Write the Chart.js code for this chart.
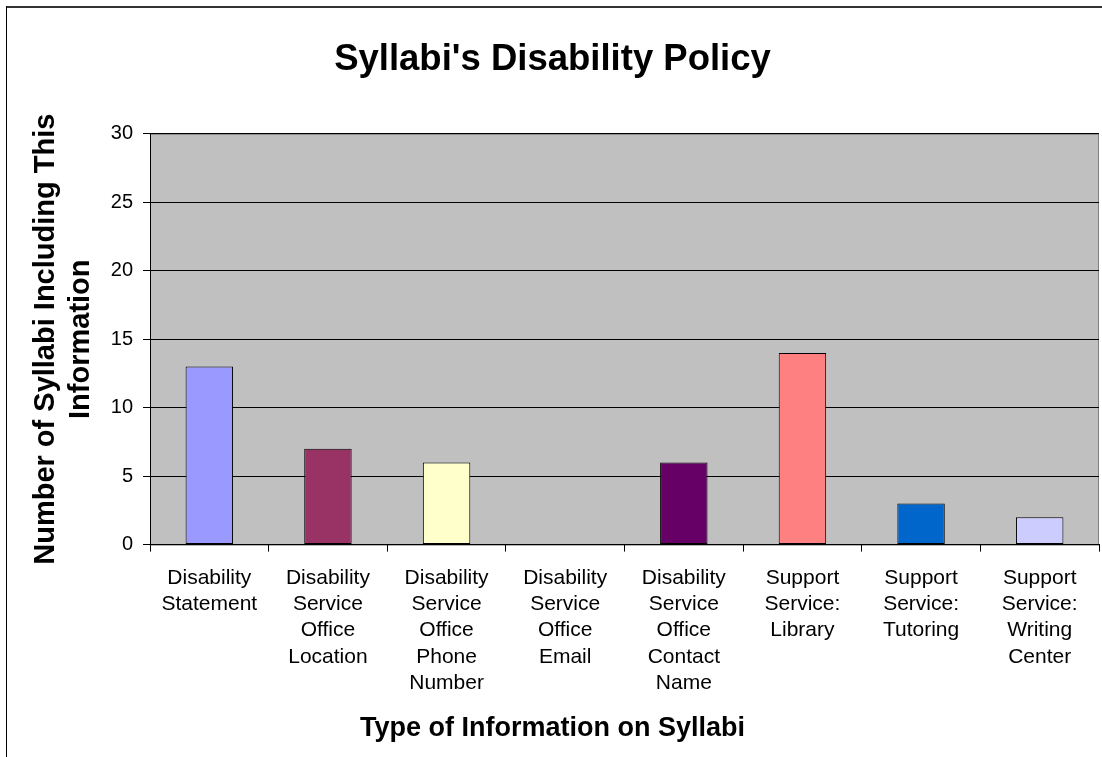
<!DOCTYPE html>
<html lang="en">
<head>
    <meta charset="UTF-8">
    <script src="https://cdn.jsdelivr.net/npm/chart.js"></script>
    <style>
        body { margin: 0; background: #fff; }
        #wrap { position: relative; width: 1102px; height: 757px; }
    </style>
</head>
<body>
    <div id="wrap"><canvas id="chart"></canvas></div>

    <script>
        const categories = [
            ['Disability', 'Statement'],
            ['Disability', 'Service', 'Office', 'Location'],
            ['Disability', 'Service', 'Office', 'Phone', 'Number'],
            ['Disability', 'Service', 'Office', 'Email'],
            ['Disability', 'Service', 'Office', 'Contact', 'Name'],
            ['Support', 'Service:', 'Library'],
            ['Support', 'Service:', 'Tutoring'],
            ['Support', 'Service:', 'Writing', 'Center']
        ];
        const counts = [13, 7, 6, 0, 6, 14, 3, 2];
        const barColors = ['#9999FF', '#993366', '#FFFFCC', '#FFFFFF', '#660066', '#FF8080', '#0066CC', '#CCCCFF'];
        const yTicks = [0, 5, 10, 15, 20, 25, 30];

        const font = 'Liberation Sans, Arial, sans-serif';

        // grey plot area + outer chart frame
        const frame = {
            id: 'frame',
            beforeDraw(chart) {
                const c = chart.ctx, a = chart.chartArea;
                c.save();
                c.fillStyle = '#333';
                c.fillRect(6, 6, chart.width - 6, 2);
                c.fillStyle = '#000';
                c.fillRect(6, 6, 1, chart.height - 6);
                c.fillStyle = '#C0C0C0';
                c.fillRect(a.left, a.top, a.right - a.left, a.bottom - a.top);
                c.strokeStyle = '#808080';
                c.lineWidth = 1;
                c.strokeRect(a.left + 0.5, a.top + 0.5, a.right - a.left - 1, a.bottom - a.top);
                c.restore();
            }
        };

        new Chart(document.getElementById('chart'), {
            type: 'bar',
            data: {
                labels: categories,
                datasets: [{
                    data: counts,
                    backgroundColor: barColors,
                    borderColor: '#000',
                    borderWidth: 1,
                    borderSkipped: false,
                    barPercentage: 0.4,
                    categoryPercentage: 1
                }]
            },
            options: {
                responsive: true,
                maintainAspectRatio: false,
                animation: false,
                layout: { padding: { left: 6, right: 3, top: 0, bottom: 0 } },
                plugins: {
                    legend: { display: false },
                    tooltip: { enabled: false },
                    title: {
                        display: true,
                        text: "Syllabi's Disability Policy",
                        color: '#000',
                        font: { family: font, size: 36.5, weight: 'bold', lineHeight: 1.2 },
                        padding: { top: 38, bottom: 52 }
                    },
                    subtitle: {
                        display: true,
                        position: 'bottom',
                        text: 'Type of Information on Syllabi',
                        color: '#000',
                        font: { family: font, size: 27, weight: 'bold', lineHeight: 1.2 },
                        padding: { top: 17, bottom: 12 }
                    }
                },
                scales: {
                    x: {
                        afterFit: s => { s.height = 151; },
                        grid: { display: true, drawOnChartArea: false, drawTicks: true, tickLength: 7, color: '#000', offset: true },
                        border: { color: '#000', width: 1 },
                        ticks: {
                            color: '#000',
                            padding: 14,
                            maxRotation: 0,
                            autoSkip: false,
                            font: { family: font, size: 21, lineHeight: 1.24 }
                        }
                    },
                    y: {
                        min: 0,
                        max: 30,
                        afterFit: s => { s.width = 144; },
                        afterBuildTicks: s => { s.ticks = yTicks.map(v => ({ value: v })); },
                        grid: { color: '#000', tickLength: 7, drawTicks: true },
                        border: { color: '#000', width: 1 },
                        ticks: {
                            color: '#000',
                            padding: 10,
                            font: { family: font, size: 20 }
                        },
                        title: {
                            display: true,
                            text: ['Number of Syllabi Including This', 'Information'],
                            color: '#000',
                            font: { family: font, size: 29, weight: 'bold', lineHeight: 1.2 },
                            padding: { top: 23, bottom: 0 }
                        }
                    }
                }
            },
            plugins: [frame]
        });
    </script>
</body>
</html>
